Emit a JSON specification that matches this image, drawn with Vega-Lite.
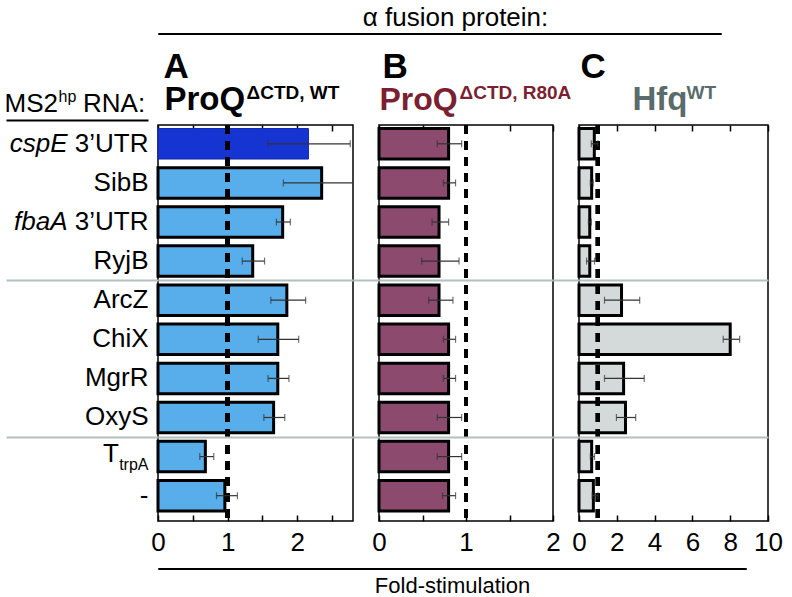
{
"$schema": "https://vega.github.io/schema/vega-lite/v6.json",
"padding": {"left": 3, "top": 3, "right": 3, "bottom": 1},
"config": {
  "font": "Liberation Sans",
  "view": {"stroke": "black", "strokeWidth": 1.5},
  "axis": {"grid": false, "domain": false, "labelColor": "black", "titleColor": "black", "tickColor": "black", "labelFlush": false}
},
"data": {"values": [
{"panel":"A","rna":"cspE","v":2.16,"lo":1.58,"hi":2.76},
{"panel":"A","rna":"SibB","v":2.35,"lo":1.80,"hi":2.95},
{"panel":"A","rna":"fbaA","v":1.79,"lo":1.70,"hi":1.90},
{"panel":"A","rna":"RyjB","v":1.36,"lo":1.21,"hi":1.53},
{"panel":"A","rna":"ArcZ","v":1.85,"lo":1.62,"hi":2.12},
{"panel":"A","rna":"ChiX","v":1.72,"lo":1.44,"hi":2.02},
{"panel":"A","rna":"MgrR","v":1.72,"lo":1.58,"hi":1.88},
{"panel":"A","rna":"OxyS","v":1.66,"lo":1.52,"hi":1.82},
{"panel":"A","rna":"TtrpA","v":0.68,"lo":0.60,"hi":0.80},
{"panel":"A","rna":"-","v":0.96,"lo":0.84,"hi":1.14},
{"panel":"B","rna":"cspE","v":0.80,"lo":0.67,"hi":0.95},
{"panel":"B","rna":"SibB","v":0.80,"lo":0.74,"hi":0.88},
{"panel":"B","rna":"fbaA","v":0.69,"lo":0.61,"hi":0.80},
{"panel":"B","rna":"RyjB","v":0.69,"lo":0.49,"hi":0.92},
{"panel":"B","rna":"ArcZ","v":0.69,"lo":0.57,"hi":0.85},
{"panel":"B","rna":"ChiX","v":0.80,"lo":0.74,"hi":0.88},
{"panel":"B","rna":"MgrR","v":0.80,"lo":0.74,"hi":0.88},
{"panel":"B","rna":"OxyS","v":0.80,"lo":0.67,"hi":0.95},
{"panel":"B","rna":"TtrpA","v":0.80,"lo":0.67,"hi":0.95},
{"panel":"B","rna":"-","v":0.80,"lo":0.73,"hi":0.88},
{"panel":"C","rna":"cspE","v":0.81,"lo":0.65,"hi":1.0},
{"panel":"C","rna":"SibB","v":0.67,"lo":0.60,"hi":0.75},
{"panel":"C","rna":"fbaA","v":0.57,"lo":0.50,"hi":0.65},
{"panel":"C","rna":"RyjB","v":0.57,"lo":0.40,"hi":0.82},
{"panel":"C","rna":"ArcZ","v":2.25,"lo":1.35,"hi":3.21},
{"panel":"C","rna":"ChiX","v":8.0,"lo":7.63,"hi":8.5},
{"panel":"C","rna":"MgrR","v":2.36,"lo":1.35,"hi":3.45},
{"panel":"C","rna":"OxyS","v":2.46,"lo":1.98,"hi":3.0},
{"panel":"C","rna":"TtrpA","v":0.67,"lo":0.60,"hi":0.82},
{"panel":"C","rna":"-","v":0.76,"lo":0.70,"hi":1.0}
]},
"spacing": 6,
"vconcat": [
{
  "data": {"values": [{"k": 1}]},
  "width": 563, "height": 1,
  "view": {"stroke": "black", "strokeWidth": 1},
  "mark": {"type": "text"},
  "encoding": {
    "x": {"datum": 0.5, "type": "quantitative", "scale": {"domain": [0, 1]}, "axis": {"orient": "top", "ticks": false, "labels": false, "domain": false, "grid": false, "title": "α fusion protein:", "titleFontSize": 26, "titleFontWeight": "normal", "titleX": 297, "titleY": -8, "titleAlign": "center", "titleBaseline": "alphabetic"}},
    "text": {"value": ""}
  }
},
{
  "bounds": "flush",
  "spacing": 26,
  "hconcat": [
  {
    "width": 195, "height": 396,
    "transform": [{"filter": "datum.panel == 'A'"}],
    "layer": [
      {
        "mark": {"type": "bar", "strokeJoin": "miter"},
        "encoding": {
          "y": {"field": "rna", "type": "nominal", "scale": {"domain": ["cspE","SibB","fbaA","RyjB","ArcZ","ChiX","MgrR","OxyS","TtrpA","-"], "paddingInner": 0.22, "paddingOuter": 0.174, "align": 0.26},
            "axis": {"orient": "left", "ticks": false, "labelPadding": 10, "labelBaseline": "middle",
              "labelExpr": "datum.value == 'cspE' || datum.value == 'fbaA' ? '3’UTR' : datum.value == 'TtrpA' ? 'trpA' : datum.value",
              "labelFontSize": {"condition": {"test": "datum.value == 'TtrpA'", "value": 16}, "value": 26},
              "labelOffset": {"condition": {"test": "datum.value == 'TtrpA'", "value": 8}, "value": 0},
              "title": "RNA:", "titleAngle": 0, "titleX": -75.5, "titleY": -13.5, "titleAlign": "left", "titleBaseline": "alphabetic", "titleFontSize": 26, "titleFontWeight": "normal"}},
          "x": {"field": "v", "type": "quantitative", "scale": {"domain": [0, 2.8], "nice": false},
            "axis": {"orient": "bottom", "values": [0, 0.5, 1, 1.5, 2, 2.5], "labelExpr": "datum.value % 1 == 0 ? format(datum.value, 'd') : ''", "tickSize": -6, "tickWidth": 1.5, "labelPadding": 14, "labelFontSize": 26, "title": null}},
          "fill": {"condition": {"test": "datum.rna == 'cspE'", "value": "#1634d2"}, "value": "#58aeea"},
          "stroke": {"condition": {"test": "datum.rna == 'cspE'", "value": "#1027b0"}, "value": "black"},
          "strokeWidth": {"condition": {"test": "datum.rna == 'cspE'", "value": 1}, "value": 3}
        }
      },
      {
        "mark": {"type": "rule", "strokeDash": [9, 7], "strokeWidth": 4, "color": "black"},
        "encoding": {"x": {"datum": 1, "type": "quantitative", "scale": {"domain": [0, 2.8], "nice": false},
          "axis": {"orient": "top", "ticks": false, "labels": false, "title": "\u00a0", "titleX": 0, "titleY": -76.5, "titleAlign": "left", "titleBaseline": "alphabetic", "titleFontSize": 2}}}
      },
      {
        "mark": {"type": "rule", "color": "#333333", "strokeWidth": 1.2, "clip": true},
        "encoding": {
          "y": {"field": "rna", "type": "nominal", "scale": {"domain": ["cspE","SibB","fbaA","RyjB","ArcZ","ChiX","MgrR","OxyS","TtrpA","-"]},
            "axis": {"orient": "left", "ticks": false, "labelBaseline": "middle", "labelFontSize": 26, "title": null,
              "labelExpr": "datum.value == 'cspE' ? 'cspE' : datum.value == 'fbaA' ? 'fbaA' : datum.value == 'TtrpA' ? 'T' : ''",
              "labelFontStyle": {"condition": {"test": "datum.value != 'TtrpA'", "value": "italic"}, "value": "normal"},
              "labelPadding": {"condition": {"test": "datum.value == 'TtrpA'", "value": 39.5}, "value": 91},
              "labelOffset": {"condition": {"test": "datum.value == 'TtrpA'", "value": -3}, "value": 0}}},
          "x": {"field": "lo", "type": "quantitative", "scale": {"domain": [0, 2.8], "nice": false},
            "axis": {"orient": "top", "values": [0, 0.5, 1, 1.5, 2, 2.5], "labels": false, "tickSize": -6, "tickWidth": 1.5,
              "title": "ΔCTD, WT", "titleX": 88, "titleY": -26.5, "titleAlign": "left", "titleBaseline": "alphabetic", "titleFontSize": 19, "titleFontWeight": "bold"}},
          "x2": {"field": "hi"}
        }
      },
      {
        "mark": {"type": "tick", "color": "#333333", "thickness": 1.2, "size": 7, "clip": true},
        "encoding": {
          "y": {"field": "rna", "type": "nominal", "scale": {"domain": ["cspE","SibB","fbaA","RyjB","ArcZ","ChiX","MgrR","OxyS","TtrpA","-"]},
            "axis": {"orient": "left", "values": ["ArcZ", "TtrpA"], "bandPosition": -0.141, "labels": false, "ticks": true, "tickSize": 152, "tickWidth": 2, "tickColor": "#b4bfbf", "grid": true, "gridColor": "#b4bfbf", "gridWidth": 2, "zindex": 1,
              "title": "hp", "titleAngle": 0, "titleX": -100, "titleY": -24, "titleAlign": "left", "titleBaseline": "alphabetic", "titleFontSize": 16, "titleFontWeight": "normal"}},
          "x": {"field": "lo", "type": "quantitative", "scale": {"domain": [0, 2.8], "nice": false},
            "axis": {"orient": "top", "ticks": false, "labels": false, "title": "ProQ", "titleX": 6, "titleY": -15.5, "titleAlign": "left", "titleBaseline": "alphabetic", "titleFontSize": 33, "titleFontWeight": "bold"}}
        }
      },
      {
        "mark": {"type": "tick", "color": "#333333", "thickness": 1.2, "size": 7, "clip": true},
        "encoding": {
          "y": {"field": "rna", "type": "nominal", "scale": {"domain": ["cspE","SibB","fbaA","RyjB","ArcZ","ChiX","MgrR","OxyS","TtrpA","-"]},
            "axis": {"orient": "left", "values": ["cspE"], "bandPosition": -0.26, "offset": 10, "labels": false, "ticks": true, "tickSize": 142, "tickWidth": 2, "tickColor": "black",
              "title": "MS2", "titleAngle": 0, "titleX": -144, "titleY": -13.5, "titleAlign": "left", "titleBaseline": "alphabetic", "titleFontSize": 26, "titleFontWeight": "normal"}},
          "x": {"field": "hi", "type": "quantitative", "scale": {"domain": [0, 2.8], "nice": false},
            "axis": {"orient": "top", "ticks": false, "labels": false, "title": "A", "titleX": 5, "titleY": -47.5, "titleAlign": "left", "titleBaseline": "alphabetic", "titleFontSize": 35, "titleFontWeight": "bold"}}
        }
      }
    ],
    "resolve": {"axis": {"x": "independent", "y": "independent"}}
  },
  {
    "width": 174, "height": 396,
    "transform": [{"filter": "datum.panel == 'B'"}],
    "layer": [
      {
        "mark": {"type": "bar", "strokeJoin": "miter", "fill": "#8b4a6e", "stroke": "black", "strokeWidth": 3},
        "encoding": {
          "y": {"field": "rna", "type": "nominal", "scale": {"domain": ["cspE","SibB","fbaA","RyjB","ArcZ","ChiX","MgrR","OxyS","TtrpA","-"], "paddingInner": 0.22, "paddingOuter": 0.174, "align": 0.26}, "axis": null},
          "x": {"field": "v", "type": "quantitative", "scale": {"domain": [0, 2], "nice": false},
            "axis": {"orient": "bottom", "values": [0, 0.5, 1, 1.5, 2], "labelExpr": "datum.value % 1 == 0 ? format(datum.value, 'd') : ''", "tickSize": -6, "tickWidth": 1.5, "labelPadding": 14, "labelFontSize": 26, "title": null}}
        }
      },
      {
        "mark": {"type": "rule", "strokeDash": [9, 7], "strokeWidth": 4, "color": "black"},
        "encoding": {"x": {"datum": 1, "type": "quantitative", "axis": null}}
      },
      {
        "mark": {"type": "rule", "color": "#333333", "strokeWidth": 1.2},
        "encoding": {
          "y": {"field": "rna", "type": "nominal", "scale": {"domain": ["cspE","SibB","fbaA","RyjB","ArcZ","ChiX","MgrR","OxyS","TtrpA","-"]}, "axis": null},
          "x": {"field": "lo", "type": "quantitative", "scale": {"domain": [0, 2], "nice": false},
            "axis": {"orient": "top", "values": [0, 0.5, 1, 1.5, 2], "labels": false, "tickSize": -6, "tickWidth": 1.5,
              "title": "ΔCTD, R80A", "titleX": 80, "titleY": -26.5, "titleAlign": "left", "titleBaseline": "alphabetic", "titleFontSize": 19, "titleFontWeight": "bold", "titleColor": "#7b1f33"}},
          "x2": {"field": "hi"}
        }
      },
      {
        "mark": {"type": "tick", "color": "#333333", "thickness": 1.2, "size": 7},
        "encoding": {
          "y": {"field": "rna", "type": "nominal", "scale": {"domain": ["cspE","SibB","fbaA","RyjB","ArcZ","ChiX","MgrR","OxyS","TtrpA","-"]},
            "axis": {"orient": "left", "values": ["ArcZ", "TtrpA"], "bandPosition": -0.141, "labels": false, "ticks": true, "tickSize": 26, "tickWidth": 2, "tickColor": "#b4bfbf", "grid": true, "gridColor": "#b4bfbf", "gridWidth": 2, "zindex": 1, "title": null}},
          "x": {"field": "lo", "type": "quantitative", "scale": {"domain": [0, 2], "nice": false},
            "axis": {"orient": "top", "ticks": false, "labels": false, "title": "ProQ", "titleX": 0, "titleY": -15.5, "titleAlign": "left", "titleBaseline": "alphabetic", "titleFontSize": 32, "titleFontWeight": "bold", "titleColor": "#7b1f33"}}
        }
      },
      {
        "mark": {"type": "tick", "color": "#333333", "thickness": 1.2, "size": 7},
        "encoding": {
          "y": {"field": "rna", "type": "nominal", "scale": {"domain": ["cspE","SibB","fbaA","RyjB","ArcZ","ChiX","MgrR","OxyS","TtrpA","-"]}, "axis": null},
          "x": {"field": "hi", "type": "quantitative", "scale": {"domain": [0, 2], "nice": false},
            "axis": {"orient": "top", "ticks": false, "labels": false, "title": "B", "titleX": 3, "titleY": -47.5, "titleAlign": "left", "titleBaseline": "alphabetic", "titleFontSize": 35, "titleFontWeight": "bold"}}
        }
      }
    ],
    "resolve": {"axis": {"x": "independent", "y": "independent"}}
  },
  {
    "width": 189, "height": 396,
    "transform": [{"filter": "datum.panel == 'C'"}],
    "layer": [
      {
        "mark": {"type": "bar", "strokeJoin": "miter", "fill": "#d4dada", "stroke": "black", "strokeWidth": 3},
        "encoding": {
          "y": {"field": "rna", "type": "nominal", "scale": {"domain": ["cspE","SibB","fbaA","RyjB","ArcZ","ChiX","MgrR","OxyS","TtrpA","-"], "paddingInner": 0.22, "paddingOuter": 0.174, "align": 0.26}, "axis": null},
          "x": {"field": "v", "type": "quantitative", "scale": {"domain": [0, 10], "nice": false},
            "axis": {"orient": "bottom", "values": [0, 2, 4, 6, 8, 10], "tickSize": -6, "tickWidth": 1.5, "labelPadding": 14, "labelFontSize": 26, "title": null}}
        }
      },
      {
        "mark": {"type": "rule", "strokeDash": [9, 7], "strokeWidth": 4, "color": "black"},
        "encoding": {"x": {"datum": 1, "type": "quantitative", "axis": null}}
      },
      {
        "mark": {"type": "rule", "color": "#333333", "strokeWidth": 1.2},
        "encoding": {
          "y": {"field": "rna", "type": "nominal", "scale": {"domain": ["cspE","SibB","fbaA","RyjB","ArcZ","ChiX","MgrR","OxyS","TtrpA","-"]}, "axis": null},
          "x": {"field": "lo", "type": "quantitative", "scale": {"domain": [0, 10], "nice": false},
            "axis": {"orient": "top", "values": [0, 2, 4, 6, 8, 10], "labels": false, "tickSize": -6, "tickWidth": 1.5,
              "title": "WT", "titleX": 107, "titleY": -26.5, "titleAlign": "left", "titleBaseline": "alphabetic", "titleFontSize": 19, "titleFontWeight": "bold", "titleColor": "#596b6b"}},
          "x2": {"field": "hi"}
        }
      },
      {
        "mark": {"type": "tick", "color": "#333333", "thickness": 1.2, "size": 7},
        "encoding": {
          "y": {"field": "rna", "type": "nominal", "scale": {"domain": ["cspE","SibB","fbaA","RyjB","ArcZ","ChiX","MgrR","OxyS","TtrpA","-"]},
            "axis": {"orient": "left", "values": ["ArcZ", "TtrpA"], "bandPosition": -0.141, "labels": false, "ticks": true, "tickSize": 26, "tickWidth": 2, "tickColor": "#b4bfbf", "grid": true, "gridColor": "#b4bfbf", "gridWidth": 2, "zindex": 1, "title": null}},
          "x": {"field": "lo", "type": "quantitative", "scale": {"domain": [0, 10], "nice": false},
            "axis": {"orient": "top", "ticks": false, "labels": false, "title": "Hfq", "titleX": 53, "titleY": -15.5, "titleAlign": "left", "titleBaseline": "alphabetic", "titleFontSize": 33, "titleFontWeight": "bold", "titleColor": "#596b6b"}}
        }
      },
      {
        "mark": {"type": "tick", "color": "#333333", "thickness": 1.2, "size": 7},
        "encoding": {
          "y": {"field": "rna", "type": "nominal", "scale": {"domain": ["cspE","SibB","fbaA","RyjB","ArcZ","ChiX","MgrR","OxyS","TtrpA","-"]}, "axis": null},
          "x": {"field": "hi", "type": "quantitative", "scale": {"domain": [0, 10], "nice": false},
            "axis": {"orient": "top", "ticks": false, "labels": false, "title": "C", "titleX": 1, "titleY": -47.5, "titleAlign": "left", "titleBaseline": "alphabetic", "titleFontSize": 35, "titleFontWeight": "bold"}}
        }
      }
    ],
    "resolve": {"axis": {"x": "independent", "y": "independent"}}
  }
  ]
},
{
  "data": {"values": [{"k": 1}]},
  "width": 588, "height": 1,
  "view": {"stroke": "black", "strokeWidth": 1},
  "mark": {"type": "text"},
  "encoding": {
    "x": {"datum": 0.5, "type": "quantitative", "scale": {"domain": [0, 1]}, "axis": {"orient": "bottom", "ticks": false, "labels": false, "domain": false, "grid": false, "title": "Fold-stimulation", "titleFontSize": 22, "titleFontWeight": "normal", "titleX": 294, "titleY": 23, "titleAlign": "center", "titleBaseline": "alphabetic"}},
    "text": {"value": ""}
  }
}
]
}
